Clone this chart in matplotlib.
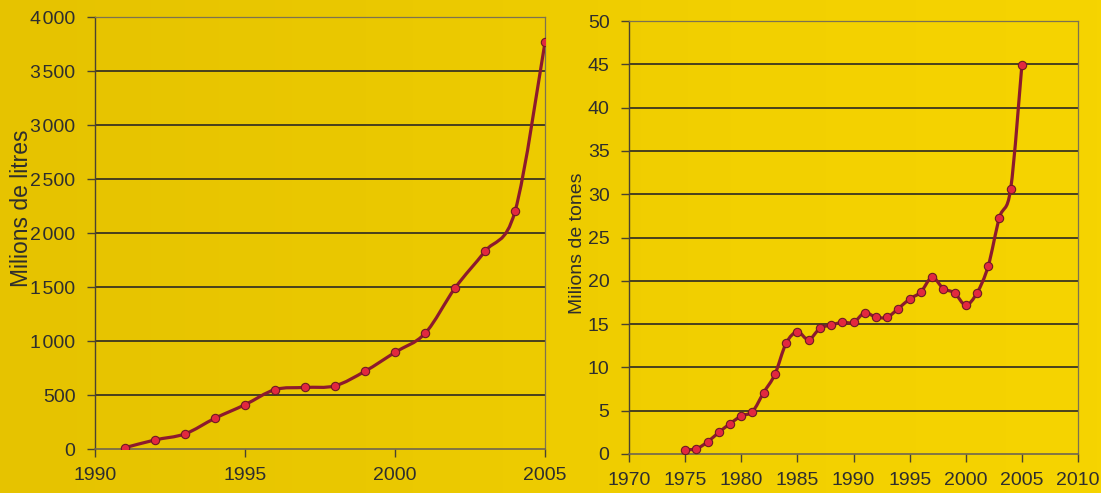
import numpy as np
import matplotlib
matplotlib.use("Agg")
import matplotlib.pyplot as plt
from matplotlib.path import Path
from matplotlib.patches import PathPatch
from matplotlib.colors import LinearSegmentedColormap

plt.rcParams['font.family'] = ['Liberation Sans', 'DejaVu Sans']

# biodiesel production (left) and world production (right)
years_litres = list(range(1991, 2006))
litres = [12, 84, 140, 285, 410, 550, 570, 585, 720, 895, 1070, 1490, 1830, 2200, 3765]

years_tones = list(range(1975, 2006))
tones = [0.5, 0.6, 1.4, 2.5, 3.5, 4.4, 4.9, 7.1, 9.2, 12.8,
         14.1, 13.2, 14.5, 14.9, 15.2, 15.2, 16.3, 15.8, 15.8, 16.8,
         17.9, 18.7, 20.4, 19.1, 18.6, 17.2, 18.6, 21.7, 27.3, 30.6, 44.9]

left_yticks = list(range(0, 4001, 500))
left_xticks = [1990, 1995, 2000, 2005]
right_yticks = list(range(0, 51, 5))
right_xticks = list(range(1970, 2011, 5))

LINE = '#8c1a2e'
MARK = '#e2283f'
GRID = '#3b3520'
FRAME = '#7d7250'
TXT = '#2e2e2e'


def smooth_path(x, y):
    # Catmull-Rom style bezier, like a spreadsheet "smoothed line"
    x = np.asarray(x, float)
    y = np.asarray(y, float)
    pts = np.column_stack([x, y])
    verts = [pts[0]]
    codes = [Path.MOVETO]
    n = len(pts)
    for i in range(n - 1):
        p0 = pts[i - 1] if i > 0 else pts[i]
        p1 = pts[i]
        p2 = pts[i + 1]
        p3 = pts[i + 2] if i + 2 < n else pts[i + 1]
        c1 = p1 + (p2 - p0) / 6.0
        c2 = p2 - (p3 - p1) / 6.0
        verts += [c1, c2, p2]
        codes += [Path.CURVE4] * 3
    return Path(verts, codes)


fig = plt.figure(figsize=(11.01, 4.93), dpi=100)

# warm yellow backdrop
bg = fig.add_axes([0, 0, 1, 1], zorder=-10)
cmap = LinearSegmentedColormap.from_list('bg', ['#e6c300', '#eac800', '#f2d000', '#f6d400'])
bg.imshow(np.linspace(0, 1, 256)[None, :], aspect='auto', cmap=cmap, extent=[0, 1, 0, 1])
bg.set_axis_off()


def style(ax, xlim, ylim, xticks, yticks, fmt):
    ax.set_facecolor('none')
    ax.set_xlim(*xlim)
    ax.set_ylim(*ylim)
    ax.set_xticks(xticks)
    ax.set_yticks(yticks)
    ax.set_yticklabels([fmt(v) for v in yticks])
    for v in yticks[1:-1]:
        ax.axhline(v, color=GRID, lw=1.3, zorder=1)
    for s in ['top', 'right']:
        ax.spines[s].set_color(FRAME)
        ax.spines[s].set_linewidth(0.9)
    ax.spines['bottom'].set_color('#6f6650')
    ax.spines['bottom'].set_linewidth(1.2)
    ax.spines['left'].set_color('#4a4330')
    ax.spines['left'].set_linewidth(1.0)
    ax.tick_params(axis='y', direction='out', length=6, width=1.0, color='#4a4330',
                   labelsize=14, labelcolor=TXT, pad=8)
    ax.tick_params(axis='x', direction='out', length=6, width=1.0, color='#4a4330',
                   labelsize=14, labelcolor=TXT, pad=7)


def draw_series(ax, x, y):
    ax.add_patch(PathPatch(smooth_path(x, y), facecolor='none', edgecolor=LINE,
                           lw=2.3, zorder=3, capstyle='round', joinstyle='round'))
    ax.plot(x, y, ls='none', marker='o', ms=6, mfc=MARK, mec='#6e1a24',
            mew=0.8, zorder=4)


def thousands(v):
    return f'{v:,}'.replace(',', '\u200a')


ax1 = fig.add_axes([95 / 1101, 1 - 449 / 493, 450 / 1101, 432 / 493])
style(ax1, (1990, 2005), (0, 4000), left_xticks, left_yticks, thousands)
draw_series(ax1, years_litres, litres)
fig.text(22 / 1101, 1 - 208 / 493, 'Milions de litres', rotation=90,
         ha='center', va='center', fontsize=16.5, color=TXT)

ax2 = fig.add_axes([629 / 1101, 1 - 454 / 493, 449 / 1101, 433 / 493])
style(ax2, (1970, 2010), (0, 50), right_xticks, right_yticks, lambda v: str(v))
draw_series(ax2, years_tones, tones)
fig.text(578 / 1101, 1 - 243 / 493, 'Milions de tones', rotation=90,
         ha='center', va='center', fontsize=14, color=TXT)

fig.savefig('out.png', dpi=100)
